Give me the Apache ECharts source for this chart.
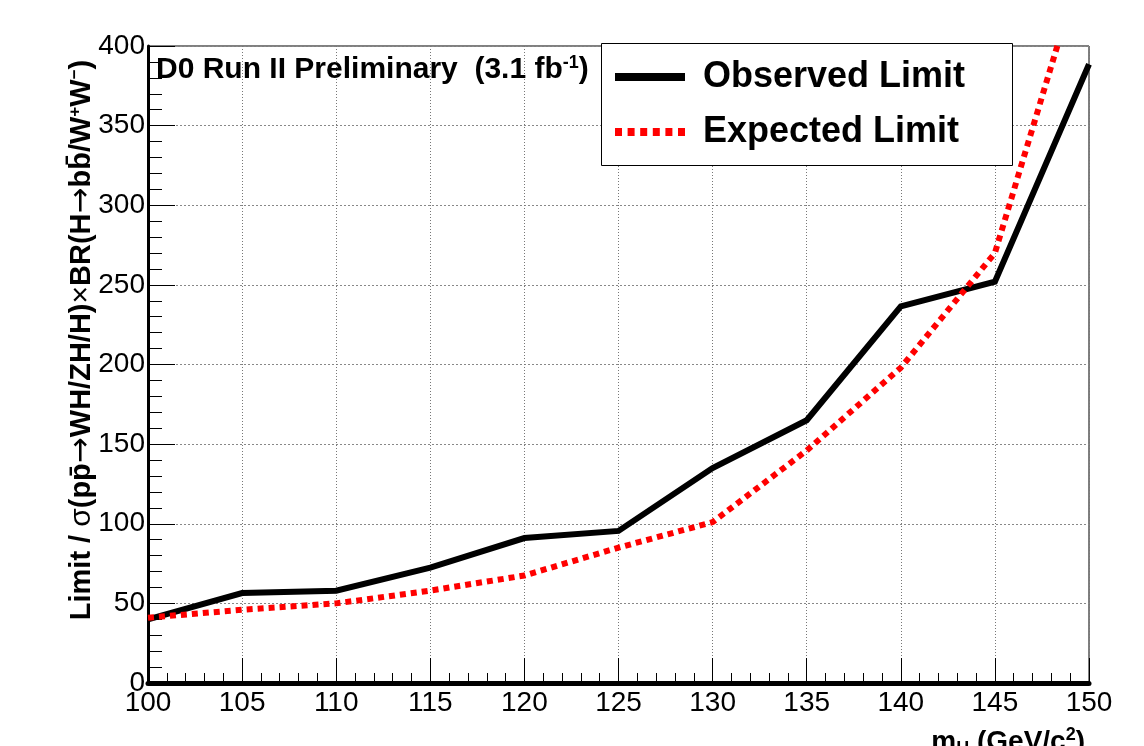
<!DOCTYPE html>
<html>
<head>
<meta charset="utf-8">
<script src="https://cdn.jsdelivr.net/npm/echarts@6/dist/echarts.min.js"></script>
<style>
html,body{margin:0;padding:0;background:#fff;}
#chart{width:1144px;height:746px;}
</style>
</head>
<body>
<div id="chart"></div>
<script>
// Data
const masses = [100, 105, 110, 115, 120, 125, 130, 135, 140, 145, 150];
const observedLimit = [40, 56.5, 58, 72.5, 91, 95.5, 135, 165, 236.5, 252, 388.5];
const expectedLimit = [41, 46, 50, 58, 67.5, 85, 101, 146, 198, 270, 466];
const seriesNames = ['Observed Limit', 'Expected Limit'];
const annotation = 'D0 Run II Preliminary  (3.1 fb';

const FONT = '"Liberation Sans", Arial, Helvetica, sans-serif';
const SYM = '"DejaVu Sans", "Liberation Sans", sans-serif';
const chart = echarts.init(document.getElementById('chart'), null, {renderer: 'canvas'});

const pairs = (ys) => masses.map((m, i) => [m, ys[i]]);

// dotted legend key: 6 squares across 70 px
let dotPath = 'path://';
for (let i = 0; i < 6; i++) {
  const x0 = i * 12.6;
  dotPath += 'M' + x0 + ',0H' + (x0 + 7) + 'V8H' + x0 + 'Z';
}

chart.setOption({
  animation: false,
  backgroundColor: '#fff',
  grid: {left: 148, right: 55, top: 46, bottom: 63, show: true, borderColor: '#000', borderWidth: 1, backgroundColor: 'transparent'},
  xAxis: {
    type: 'value', min: 100, max: 150, interval: 5,
    axisLine: {show: true, onZero: false, lineStyle: {color: '#000', width: 5}},
    axisTick: {show: true, inside: true, length: 25, lineStyle: {color: '#000', width: 1}},
    minorTick: {show: true, splitNumber: 5, length: 10, lineStyle: {color: '#000', width: 1}},
    splitLine: {show: true, lineStyle: {color: '#777', width: 1, type: [1, 2]}},
    axisLabel: {color: '#000', fontFamily: FONT, fontSize: 28, margin: 6, showMinLabel: true, showMaxLabel: true}
  },
  yAxis: {
    type: 'value', min: 0, max: 400, interval: 50,
    axisLine: {show: true, lineStyle: {color: '#000', width: 3}},
    axisTick: {show: true, inside: true, length: 27, lineStyle: {color: '#000', width: 1}},
    minorTick: {show: true, splitNumber: 5, length: 14, lineStyle: {color: '#000', width: 1}},
    splitLine: {show: true, lineStyle: {color: '#888', width: 1, type: [2, 2]}},
    axisLabel: {color: '#000', fontFamily: FONT, fontSize: 28, margin: 3, showMinLabel: true, showMaxLabel: true}
  },
  legend: {
    orient: 'vertical', left: 615, top: 59, z: 10,
    padding: 0,
    itemGap: 19, itemWidth: 70, itemHeight: 8,
    textStyle: {fontFamily: FONT, fontSize: 36, fontWeight: 'bold', color: '#000', padding: [0, 0, 0, 13]},
    data: [
      {name: seriesNames[0], icon: 'rect'},
      {name: seriesNames[1], icon: dotPath}
    ]
  },
  series: [
    {name: seriesNames[0], type: 'line', data: pairs(observedLimit), symbol: 'none', clip: true,
     lineStyle: {color: '#000', width: 6, join: 'miter'}, itemStyle: {color: '#000'}, z: 2},
    {name: seriesNames[1], type: 'line', data: pairs(expectedLimit), symbol: 'none', clip: true,
     lineStyle: {color: '#ff0000', width: 6, type: [6, 5], cap: 'butt'}, itemStyle: {color: '#ff0000'}, z: 3}
  ],
  graphic: [
    {type: 'rect', shape: {x: 601.5, y: 43.5, width: 411, height: 122}, z: 5,
     style: {fill: '#fff', stroke: '#000', lineWidth: 1}},
    {type: 'text', left: 156, top: 54, z: 6,
     style: {text: '{t|' + annotation + '}{s|-1}{t|)}', rich: {
       t: {fontFamily: FONT, fontSize: 30, fontWeight: 'bold', fill: '#000'},
       s: {fontFamily: FONT, fontSize: 18, fontWeight: 'bold', fill: '#000', padding: [0, 0, 13, 0]}
     }}},
    {type: 'text', x: 82, y: 340, rotation: Math.PI / 2, z: 6,
     style: {
       text: '{b|Limit / }{g|\u03c3}{b|(pp\u0304}{a|\u2192}{b|WH/ZH/H)}{g|\u00d7}{b|BR(H}{a|\u2192}{b|bb\u0304/W}{s|+}{b|W}{s|\u2212}{b|)}',
       align: 'center', verticalAlign: 'middle',
       rich: {
         b: {fontFamily: FONT, fontSize: 29, fontWeight: 'bold', fill: '#000'},
         g: {fontFamily: FONT, fontSize: 30, fontWeight: 'normal', fill: '#000'},
         a: {fontFamily: SYM, fontSize: 31, fontWeight: 'normal', fill: '#000'},
         s: {fontFamily: FONT, fontSize: 17, fontWeight: 'bold', fill: '#000', padding: [0, 0, 13, 0]}
       }
     }},
    {type: 'text', right: 59, top: 726, z: 6,
     style: {text: '{t|m}{b|H}{t| (GeV/c}{s|2}{t|)}', rich: {
       t: {fontFamily: FONT, fontSize: 28, fontWeight: 'bold', fill: '#000'},
       b: {fontFamily: FONT, fontSize: 18, fontWeight: 'bold', fill: '#000', padding: [14, 0, 0, 0]},
       s: {fontFamily: FONT, fontSize: 18, fontWeight: 'bold', fill: '#000', padding: [0, 0, 14, 0]}
     }}}
  ]
});
</script>
</body>
</html>
